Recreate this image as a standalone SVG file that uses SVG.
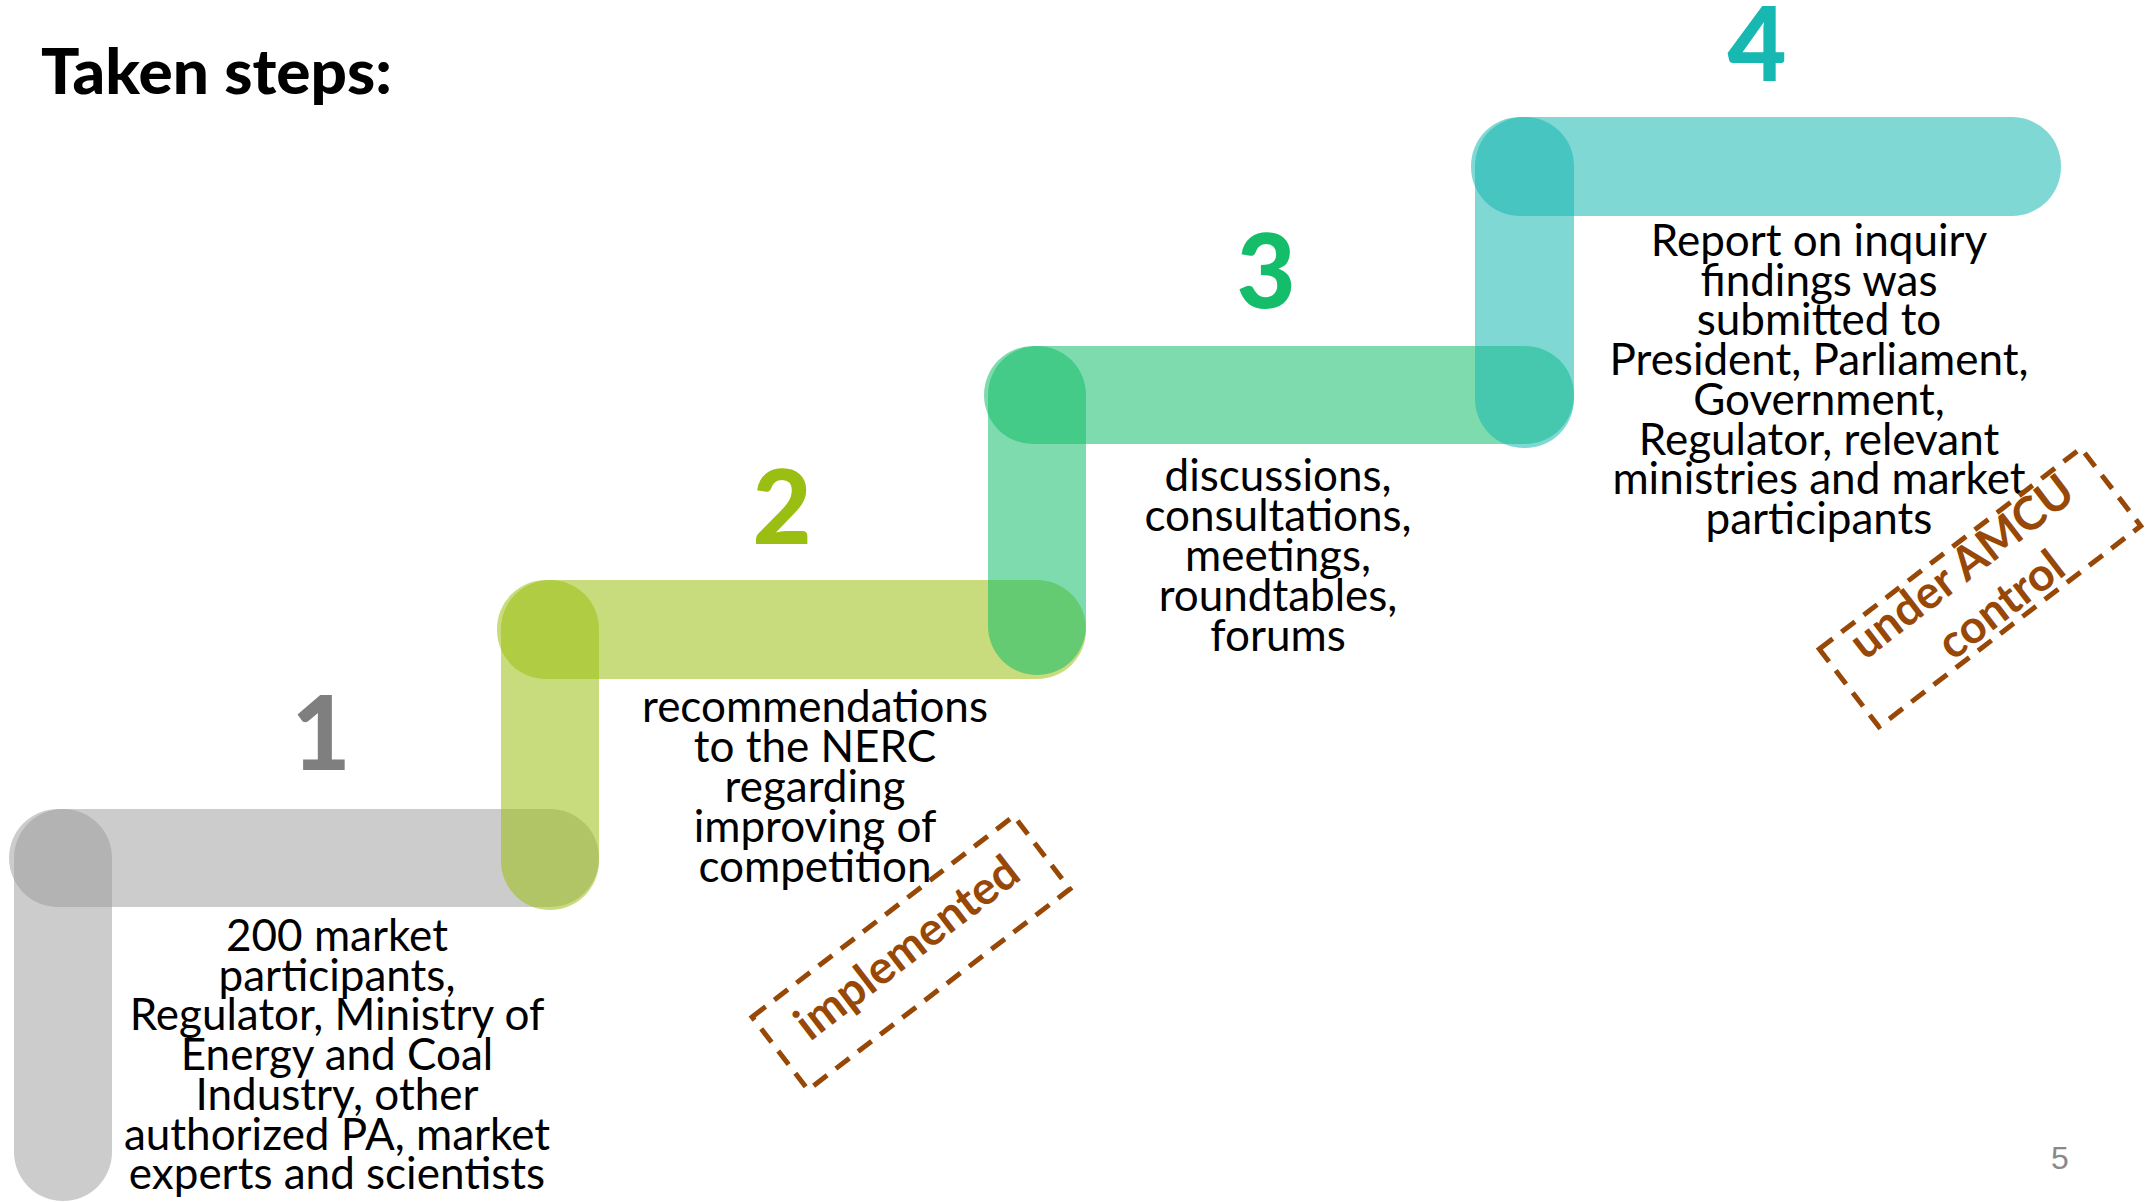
<svg xmlns="http://www.w3.org/2000/svg" width="2153" height="1202" viewBox="0 0 2153 1202">
<style>
.gray{fill:#999999;opacity:0.5}
.pill{opacity:0.55}
.g2{fill:#9abf12}
.g3{fill:#14bd6a}
.g4{fill:#17b8b1}
.num{font-family:Lato,"Liberation Sans",sans-serif;font-weight:900;font-size:102px;text-anchor:middle}
.body{font-family:Lato,"Liberation Sans",sans-serif;font-size:44px;fill:#000;text-anchor:middle}
.title{font-family:Lato,"Liberation Sans",sans-serif;font-weight:900;font-size:63px;fill:#000}
.stamp rect{fill:none;stroke:#974806;stroke-width:5;stroke-dasharray:17 11}
.stamp text{font-family:Lato,"Liberation Sans",sans-serif;font-weight:bold;font-size:46px;fill:#974806;text-anchor:middle}
.page{font-family:"Liberation Sans",sans-serif;font-size:32px;fill:#898989;text-anchor:middle}
</style>
<rect width="2153" height="1202" fill="#ffffff"/>
<text class="title" x="41" y="94" textLength="351" lengthAdjust="spacingAndGlyphs">Taken steps:</text>
<g id="connectors"></g>
<g id="step1">
<rect class="gray" x="9" y="809" width="590" height="98" rx="49"/>
<rect class="gray" x="14" y="809" width="98" height="392" rx="49"/>
<text class="num" x="321" y="770" fill="#7f7f7f">1</text>
<text class="body" x="337"><tspan x="337" y="951">200 market</tspan><tspan x="337" y="990.7">participants,</tspan><tspan x="337" y="1030.4">Regulator, Ministry of</tspan><tspan x="337" y="1070.1">Energy and Coal</tspan><tspan x="337" y="1109.8">Industry, other</tspan><tspan x="337" y="1149.5">authorized PA, market</tspan><tspan x="337" y="1189.2">experts and scientists</tspan></text>
</g>
<g id="step2">
<rect class="pill g2" x="497" y="580" width="589" height="99" rx="49"/>
<rect class="pill g2" x="501" y="580" width="98" height="330" rx="49"/>
<text class="num g2" x="782" y="544">2</text>
<text class="body" x="815"><tspan x="815" y="722">recommendations</tspan><tspan x="815" y="762">to the NERC</tspan><tspan x="815" y="802">regarding</tspan><tspan x="815" y="842">improving of</tspan><tspan x="815" y="882">competition</tspan></text>
</g>
<g id="step3">
<rect class="pill g3" x="984" y="346" width="590" height="98" rx="49"/>
<rect class="pill g3" x="988" y="346" width="98" height="329" rx="49"/>
<text class="num g3" x="1266" y="308">3</text>
<text class="body" x="1278"><tspan x="1278" y="491">discussions,</tspan><tspan x="1278" y="531">consultations,</tspan><tspan x="1278" y="571">meetings,</tspan><tspan x="1278" y="611">roundtables,</tspan><tspan x="1278" y="651">forums</tspan></text>
</g>
<g id="step4">
<rect class="pill g4" x="1471" y="117" width="590" height="99" rx="49"/>
<rect class="pill g4" x="1475" y="117" width="99" height="331" rx="49"/>
<text class="num g4" x="1757" y="81">4</text>
<text class="body" x="1819"><tspan x="1819" y="256">Report on inquiry</tspan><tspan x="1819" y="295.7">findings was</tspan><tspan x="1819" y="335.4">submitted to</tspan><tspan x="1819" y="375.1">President, Parliament,</tspan><tspan x="1819" y="414.8">Government,</tspan><tspan x="1819" y="454.5">Regulator, relevant</tspan><tspan x="1819" y="494.2">ministries and market</tspan><tspan x="1819" y="533.9">participants</tspan></text>
</g>
<g id="stamp-implemented" class="stamp" transform="translate(911,953) rotate(-37.5)">
<rect x="-165" y="-46" width="330" height="92"/>
<text x="0" y="9">implemented</text>
</g>
<g id="stamp-amcu" class="stamp" transform="translate(1980,587.5) rotate(-37.5)">
<rect x="-165" y="-49" width="330" height="98"/>
<text x="-2" y="-12">under AMCU</text>
<text x="6" y="42">control</text>
</g>
<text class="page" x="2060" y="1169">5</text>
</svg>
